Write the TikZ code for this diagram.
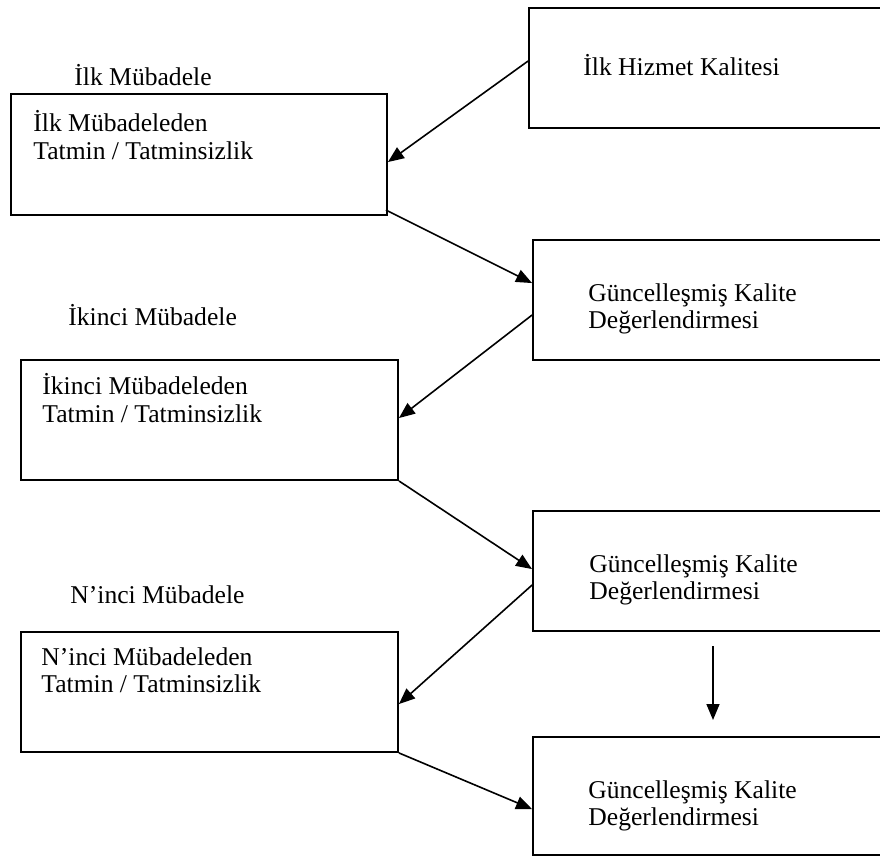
\documentclass[tikz,border=0pt]{standalone}
\usepackage{fontspec}
\setmainfont{Liberation Serif}
\usetikzlibrary{fit,calc,arrows.meta}
\begin{document}
\begin{tikzpicture}[x=0.5pt,y=-0.5pt,
  box/.style={draw=black,line width=0.95pt,inner sep=0pt,fill=none},
  lbl/.style={anchor=west,inner sep=0pt,align=left,font=\fontsize{12.8}{13.6}\selectfont},
  conn/.style={line width=0.8pt,-{Triangle[length=8pt,width=6.5pt]}}]
\useasboundingbox (0,0) rectangle (880,857);
\clip (0,0) rectangle (880,857);
% boxes
\node[box,fit={(529,8) (890,128)}] (A) {};
\node[box,fit={(11,94) (387,215)}] (B) {};
\node[box,fit={(533,240) (890,360)}] (C) {};
\node[box,fit={(21,360) (398,480)}] (D) {};
\node[box,fit={(533,511) (890,631)}] (E) {};
\node[box,fit={(21,632) (398,752)}] (F) {};
\node[box,fit={(533,737) (890,855)}] (G) {};
% texts
\node[lbl] (tA) at (583,65) {İlk Hizmet Kalitesi};
\node[lbl] (l1) at (74,75) {İlk Mübadele};
\node[lbl] (tB) at (33,135) {İlk Mübadeleden\\Tatmin / Tatminsizlik};
\node[lbl] (tC) at (588,309) {Güncelleşmiş Kalite\\Değerlendirmesi};
\node[lbl] (l2) at (68,315) {İkinci Mübadele};
\node[lbl] (tD) at (42,398) {İkinci Mübadeleden\\Tatmin / Tatminsizlik};
\node[lbl] (tE) at (589,580) {Güncelleşmiş Kalite\\Değerlendirmesi};
\node[lbl] (l3) at (70,595) {N’inci Mübadele};
\node[lbl] (tF) at (41,670) {N’inci Mübadeleden\\Tatmin / Tatminsizlik};
\node[lbl] (tG) at (588,806) {Güncelleşmiş Kalite\\Değerlendirmesi};
% connectors
\draw[conn] ($(A.north west)+(0,54)$) -- ($(B.north east)+(0,69)$);
\draw[conn] ($(B.north east)+(-2,117)$) -- ($(C.north west)+(0,44)$);
\draw[conn] ($(C.north west)+(0,76)$) -- ($(D.north east)+(0,59)$);
\draw[conn] (D.south east) -- ($(E.north west)+(0,59)$);
\draw[conn] ($(E.north west)+(0,75)$) -- ($(F.north east)+(0,73)$);
\draw[conn] (F.south east) -- ($(G.north west)+(0,73)$);
\coordinate (d1) at (713,646);
\coordinate (d2) at (713,720);
\draw[conn] (d1) -- (d2);
\end{tikzpicture}
\end{document}
